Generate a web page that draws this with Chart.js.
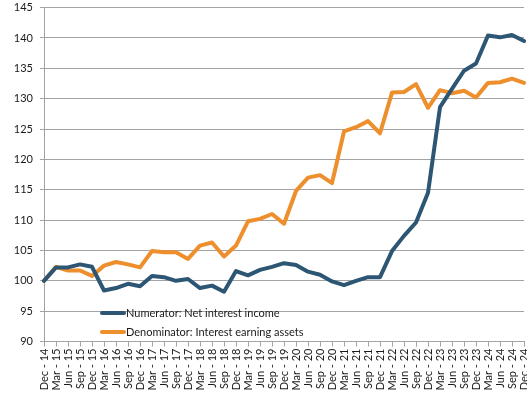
<!DOCTYPE html>
<html>
<head>
<meta charset="utf-8">
<script src="https://cdn.jsdelivr.net/npm/chart.js@4"></script>
<style>
  html, body { margin: 0; padding: 0; background: #fff; }
  #wrap { width: 527px; height: 396px; overflow: hidden; }
  #myChart { display: block; margin-top: -6px; }
</style>
</head>
<body>
<div id="wrap"><canvas id="myChart" width="560" height="402"></canvas></div>
<script>
// quarter labels, Dec 2014 - Dec 2024
const quarters = [
    'Dec - 14', 'Mar - 15', 'Jun - 15', 'Sep - 15', 'Dec - 15',
    'Mar - 16', 'Jun - 16', 'Sep - 16', 'Dec - 16',
    'Mar - 17', 'Jun - 17', 'Sep - 17', 'Dec - 17',
    'Mar - 18', 'Jun - 18', 'Sep - 18', 'Dec - 18',
    'Mar - 19', 'Jun - 19', 'Sep - 19', 'Dec - 19',
    'Mar - 20', 'Jun - 20', 'Sep - 20', 'Dec - 20',
    'Mar - 21', 'Jun - 21', 'Sep - 21', 'Dec - 21',
    'Mar - 22', 'Jun - 22', 'Sep - 22', 'Dec - 22',
    'Mar - 23', 'Jun - 23', 'Sep - 23', 'Dec - 23',
    'Mar - 24', 'Jun - 24', 'Sep - 24', 'Dec - 24'
];

// index, Dec 2014 = 100
const netInterestIncome = [
    100, 102.2, 102.2, 102.7, 102.3, 98.4, 98.8, 99.5, 99.1,
    100.8, 100.6, 100.0, 100.3, 98.8, 99.2, 98.2, 101.6,
    100.9, 101.8, 102.3, 102.9, 102.6, 101.5, 101.0, 99.9,
    99.3, 100.0, 100.6, 100.6, 104.9, 107.4, 109.6, 114.5,
    128.6, 131.6, 134.6, 135.8, 140.4, 140.1, 140.5, 139.5
];

const interestEarningAssets = [
    100, 102.3, 101.7, 101.7, 100.8, 102.5, 103.1, 102.7, 102.2,
    104.9, 104.7, 104.7, 103.6, 105.8, 106.3, 104.0, 105.8,
    109.8, 110.2, 111.0, 109.4, 114.8, 117.0, 117.4, 116.1,
    124.6, 125.3, 126.3, 124.3, 131.0, 131.1, 132.4, 128.5,
    131.4, 130.9, 131.3, 130.2, 132.6, 132.7, 133.3, 132.6
];

const yTicks = [90, 95, 100, 105, 110, 115, 120, 125, 130, 135, 140, 145];

const FONT = 'Lato, "Liberation Sans", sans-serif';
const TEXT = '#1a1a1a';
const GRID = '#a3a3a3';

// legend sits inside the plot, bottom left (canvas coords, canvas is shifted up 6px)
const innerLegend = {
    id: 'innerLegend',
    afterDatasetsDraw(chart) {
        const ctx = chart.ctx;
        ctx.save();
        ctx.font = '11px ' + FONT;
        ctx.textBaseline = 'middle';
        chart.data.datasets.forEach((ds, i) => {
            const y = 319 + i * 19;
            ctx.strokeStyle = ds.borderColor;
            ctx.lineWidth = 4;
            ctx.lineCap = 'round';
            ctx.beginPath();
            ctx.moveTo(102, y);
            ctx.lineTo(124, y);
            ctx.stroke();
            ctx.fillStyle = TEXT;
            ctx.fillText(ds.label, 126, y);
        });
        ctx.restore();
    }
};

var ctx = document.getElementById('myChart').getContext('2d');
var chart = new Chart(ctx, {
    type: 'line',
    data: {
        labels: quarters,
        datasets: [{
            label: 'Numerator: Net interest income',
            data: netInterestIncome,
            borderColor: '#2d5674',
            borderWidth: 4,
            borderJoinStyle: 'round',
            borderCapStyle: 'round',
            pointRadius: 0,
            fill: false
        }, {
            label: 'Denominator: Interest earning assets',
            data: interestEarningAssets,
            borderColor: '#ee8f2d',
            borderWidth: 4,
            borderJoinStyle: 'round',
            borderCapStyle: 'round',
            pointRadius: 0,
            fill: false
        }]
    },
    options: {
        responsive: false,
        animation: false,
        layout: { padding: { top: 1, right: 36, left: 0, bottom: 0 } },
        plugins: {
            legend: { display: false },
            tooltip: { enabled: false }
        },
        scales: {
            x: {
                offset: false,
                grid: { drawOnChartArea: false, color: GRID, tickLength: 5 },
                border: { color: GRID },
                ticks: {
                    autoSkip: false,
                    maxRotation: 90,
                    minRotation: 90,
                    padding: 2,
                    color: TEXT,
                    font: { family: FONT, size: 11 }
                },
                afterFit(scale) { scale.height = 54.5; }
            },
            y: {
                min: 90,
                max: 145,
                afterBuildTicks(scale) { scale.ticks = yTicks.map(v => ({ value: v })); },
                grid: { color: GRID, tickLength: 4 },
                border: { color: GRID },
                ticks: {
                    padding: 7,
                    color: TEXT,
                    font: { family: FONT, size: 11 }
                },
                afterFit(scale) { scale.width = 44; }
            }
        }
    },
    plugins: [innerLegend]
});
</script>
</body>
</html>
